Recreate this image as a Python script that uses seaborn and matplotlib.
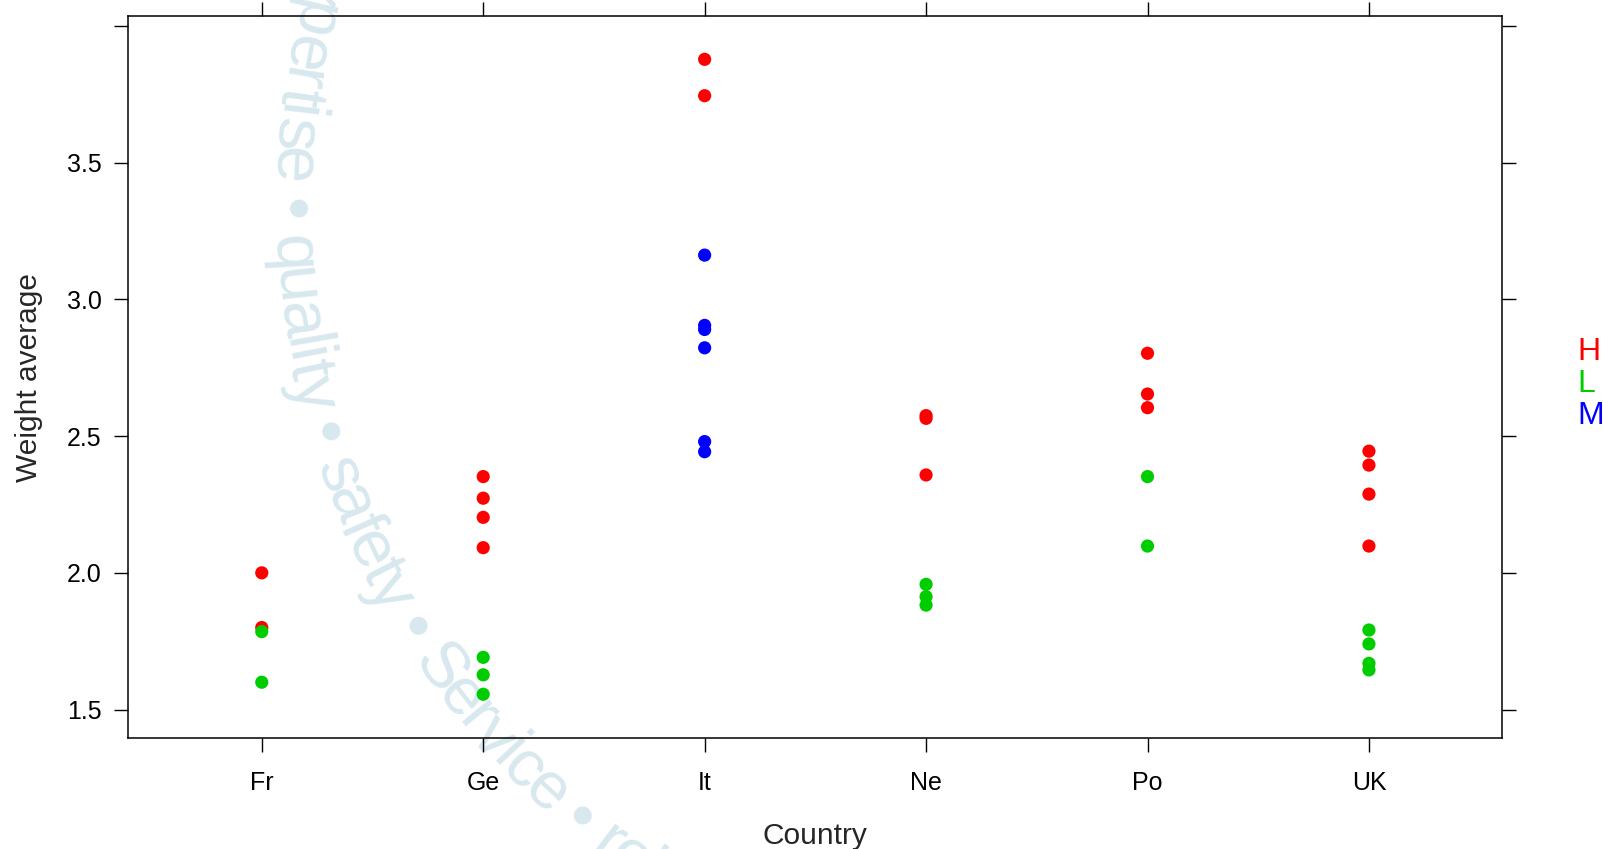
import numpy as np
import pandas as pd
import matplotlib
matplotlib.use("Agg")
import matplotlib.pyplot as plt
import seaborn as sns
from matplotlib import font_manager
from matplotlib.ft2font import FT2Font

# ---- data -------------------------------------------------------------
countries = ["Fr", "Ge", "It", "Ne", "Po", "UK"]
groups = ["H", "L", "M"]

h_values = {
    "Fr": [2.00, 1.80],
    "Ge": [2.352, 2.273, 2.203, 2.092],
    "It": [3.878, 3.745],
    "Ne": [2.575, 2.565, 2.358],
    "Po": [2.803, 2.654, 2.604],
    "UK": [2.445, 2.394, 2.288, 2.098],
}
l_values = {
    "Fr": [1.785, 1.600],
    "Ge": [1.691, 1.627, 1.556],
    "Ne": [1.958, 1.913, 1.882],
    "Po": [2.352, 2.098],
    "UK": [1.791, 1.740, 1.669, 1.645],
}
m_values = {
    "It": [3.162, 2.905, 2.890, 2.823, 2.480, 2.443],
}

y_ticks = [1.5, 2.0, 2.5, 3.0, 3.5, 4.0]
y_tick_labels = ["1.5", "2.0", "2.5", "3.0", "3.5", ""]
palette = {"H": "#ff0000", "L": "#00cd00", "M": "#0000ff"}

rows = []
for grp, table in (("H", h_values), ("L", l_values), ("M", m_values)):
    for c, vals in table.items():
        for v in vals:
            rows.append({"Country": c, "Weight": v, "Group": grp})
df = pd.DataFrame(rows)

# ---- style ------------------------------------------------------------
sns.set_style("white")
plt.rcParams["font.family"] = ["Liberation Sans", "DejaVu Sans"]

W, H = 1603, 849
fig = plt.figure(figsize=(W / 100, H / 100), dpi=100)
fig.patch.set_facecolor("white")
ax = fig.add_axes([127.8 / W, (H - 738) / H, 1374 / W, 721.6 / H])
ax.patch.set_alpha(0)

sns.stripplot(
    data=df, x="Country", y="Weight", hue="Group",
    order=countries, hue_order=groups, palette=palette,
    jitter=False, dodge=False, size=9.5, linewidth=0,
    legend=False, ax=ax, zorder=3,
)

ax.set_xlim(-0.605, 5.6)
ax.set_ylim(1.396, 4.035)
ax.set_yticks(y_ticks)
ax.set_yticklabels(y_tick_labels)

for s in ax.spines.values():
    s.set_visible(True)
    s.set_color("black")
    s.set_linewidth(1.1)

ax.tick_params(axis="both", which="both", direction="out", length=10,
               width=1.0, color="black", labelsize=18, labelcolor="black",
               top=True, right=True, labeltop=False, labelright=False,
               bottom=True, left=True)
ax.tick_params(axis="y", pad=9)
ax.tick_params(axis="x", pad=14)

ax.set_xlabel("Country", fontsize=21.5)
ax.set_ylabel("Weight average", fontsize=21.5)
ax.xaxis.set_label_coords(0.5, -0.117)
ax.yaxis.set_label_coords(-0.0617, 0.5)

# ---- group key on the right -----------------------------------------
for g, base in zip(groups, [360.5, 392.2, 423.9]):
    fig.text(1577 / W, 1 - base / H, g, color=palette[g], fontsize=23,
             ha="left", va="baseline")

# ---- curved watermark text -------------------------------------------
WM_TEXT = "expertise \u2022 quality \u2022 safety \u2022 Service \u2022 reliability"
WM_SIZE = 48
WM_COLOR = "#d8e8ef"
TRACK = 0.92
cx, cy = 1094.0, 204.0      # arc centre, pixels from top-left
r_base = 821.0
theta_first_dot = np.deg2rad(179.6)

fpath = font_manager.findfont(font_manager.FontProperties(family="Liberation Sans"))
ft = FT2Font(fpath)
ft.set_size(WM_SIZE, 72)
adv = []
for ch in WM_TEXT:
    g = ft.load_char(ord(ch))
    adv.append(g.linearHoriAdvance / 65536 * 100 / 72)
adv = np.array(adv)
centres = np.cumsum(adv) - adv / 2
i_dot = WM_TEXT.index("\u2022")
for ch, c in zip(WM_TEXT, centres):
    if ch == " ":
        continue
    s = (c - centres[i_dot]) * TRACK
    th = theta_first_dot - s / r_base
    px = cx + r_base * np.cos(th)
    py = cy + r_base * np.sin(th)
    fig.text(px / W, 1 - py / H, ch, fontsize=WM_SIZE, color=WM_COLOR,
             rotation=90 - np.rad2deg(th), rotation_mode="anchor",
             ha="center", va="baseline", zorder=-5)

fig.savefig("out.png", dpi=100, facecolor="white")
